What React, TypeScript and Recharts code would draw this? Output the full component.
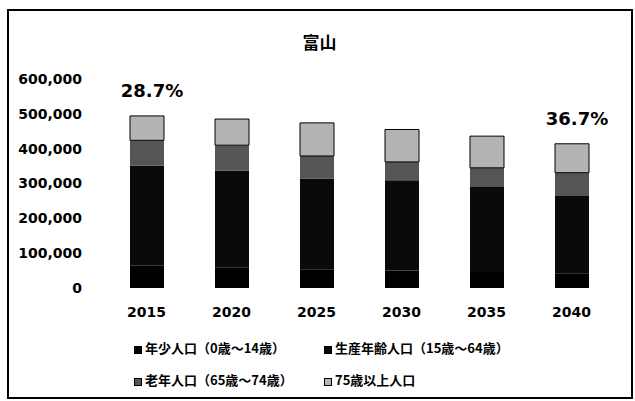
import { BarChart, Bar, XAxis, YAxis, LabelList } from 'recharts'

const years = ['2015', '2020', '2025', '2030', '2035', '2040']
const youth = [64000, 58000, 54000, 50000, 46000, 42000]
const working = [288000, 279000, 260000, 259000, 244000, 222000]
const elderly = [72000, 73000, 65000, 53000, 55000, 67000]
const oldOld = [70000, 75000, 95000, 93000, 91000, 83000]
const agingRate = ['28.7%', '', '', '', '', '36.7%']
const yTicks = [0, 100000, 200000, 300000, 400000, 500000, 600000]

const seriesNames = [
  '年少人口（0歳～14歳）',
  '生産年齢人口（15歳～64歳）',
  '老年人口（65歳～74歳）',
  '75歳以上人口',
]
const seriesColors = ['#000000', '#0a0a0a', '#555555', '#b4b4b4']

const data = years.map((year, i) => ({
  year,
  youth: youth[i],
  working: working[i],
  elderly: elderly[i],
  oldOld: oldOld[i],
  rate: agingRate[i],
}))

const font = '"DejaVu Sans", "Noto Sans CJK JP", sans-serif'
const cjk = '"Noto Sans CJK JP", "DejaVu Sans", sans-serif'

function RateLabel(props: any) {
  const { x, y, width, value } = props
  if (!value) return null
  return (
    <text
      x={x + width / 2 + 5}
      y={y - 24}
      textAnchor="middle"
      dominantBaseline="middle"
      fontSize={18}
      fontWeight="bold"
      fontFamily={font}
      fill="#000"
    >
      {value}
    </text>
  )
}

function LegendItem({ i, left, top }: { i: number; left: number; top: number }) {
  return (
    <div
      style={{
        position: 'absolute',
        left,
        top,
        display: 'flex',
        alignItems: 'center',
        fontFamily: cjk,
        fontSize: 13,
        fontWeight: 'bold',
        whiteSpace: 'nowrap',
        lineHeight: 1,
      }}
    >
      <span
        style={{
          display: 'inline-block',
          width: 6,
          height: 6,
          background: seriesColors[i],
          border: '1px solid #000',
          marginRight: 3,
          marginTop: 4,
        }}
      />
      {seriesNames[i]}
    </div>
  )
}

export default function App() {
  return (
    <div style={{ position: 'absolute', left: 0, top: 0, width: 635, height: 401, background: '#fff' }}>
      <div
        style={{
          position: 'absolute',
          left: 7,
          top: 9,
          width: 626,
          height: 390,
          border: '2px solid #000',
          boxSizing: 'border-box',
        }}
      />
      <div
        style={{
          position: 'absolute',
          left: 0,
          width: 635,
          top: 31,
          textAlign: 'center',
          fontFamily: cjk,
          fontSize: 17,
          fontWeight: 'bold',
          lineHeight: '22px',
          paddingLeft: 2,
        }}
      >
        富山
      </div>
      <div style={{ position: 'absolute', left: 0, top: 0 }}>
        <BarChart
          width={635}
          height={401}
          data={data}
          margin={{ top: 79, right: 21, bottom: 83, left: 0 }}
        >
          <XAxis
            dataKey="year"
            axisLine={false}
            tickLine={false}
            tickSize={0}
            tickMargin={19}
            height={30}
            tick={{ fontSize: 14, fontWeight: 'bold', fill: '#000', fontFamily: font }}
          />
          <YAxis
            domain={[0, 600000]}
            ticks={yTicks}
            axisLine={false}
            tickLine={false}
            tickSize={0}
            tickMargin={22}
            width={104}
            tickFormatter={(v: number) => v.toLocaleString('en-US')}
            tick={{ fontSize: 14, fontWeight: 'bold', fill: '#000', fontFamily: font }}
          />
          <Bar dataKey="youth" stackId="a" fill={seriesColors[0]} barSize={34} isAnimationActive={false} />
          <Bar dataKey="working" stackId="a" fill={seriesColors[1]} barSize={34} isAnimationActive={false} />
          <Bar dataKey="elderly" stackId="a" fill={seriesColors[2]} barSize={34} isAnimationActive={false} />
          <Bar
            dataKey="oldOld"
            stackId="a"
            fill={seriesColors[3]}
            stroke="#000"
            strokeWidth={1}
            barSize={34}
            isAnimationActive={false}
          >
            <LabelList dataKey="rate" content={RateLabel} />
          </Bar>
        </BarChart>
      </div>
      <LegendItem i={0} left={134} top={341} />
      <LegendItem i={1} left={324} top={341} />
      <LegendItem i={2} left={134} top={373} />
      <LegendItem i={3} left={324} top={373} />
    </div>
  )
}
